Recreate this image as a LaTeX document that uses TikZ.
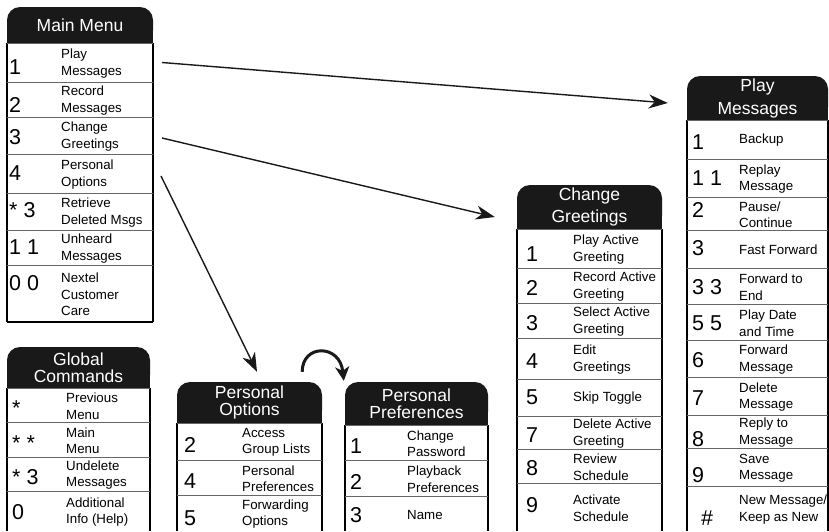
\documentclass[tikz,border=0pt]{standalone}
\usepackage{fontspec}
\setmainfont{Liberation Sans}
\usepackage{tikz}
\usetikzlibrary{arrows.meta}
\usepackage{xcolor}
\colorlet{hdrblack}{black!90}
\colorlet{rulegray}{black!60}

\begin{document}
\begin{tikzpicture}[x=1pt, y=-1pt, >={Stealth[length=19pt, width=14pt, inset=6pt]},
    hdr/.style={text=white, align=center, inner sep=0pt},
    num/.style={anchor=west, inner sep=0pt, font=\fontsize{21.5}{21.5}\selectfont},
    txt/.style={anchor=west, align=left, inner sep=0pt, font=\fontsize{13.3}{16.5}\selectfont},
    rowsep/.style={rulegray, line width=1pt},
    boxside/.style={black, line width=1.4pt},
    arr/.style={->, black!90, line width=1.4pt},
    curl/.style={-{Stealth[length=14pt, width=14pt, inset=4pt]}, black!90, line width=3pt}]

    \useasboundingbox (0,0) rectangle (829,531);

    % ===== HEADERS AND BOX SIDES =====
    \foreach \name/\xa/\xb/\ya/\yb/\yc/\ls/\title in {
        mm/7/153/7/43/322/18/{Main Menu},
        gc/7/150/347/388/531/17/{Global\\Commands},
        po/177/322/382/423/531/17/{Personal\\Options},
        pp/345/488/382/425/531/17/{Personal\\Preferences},
        cg/517/662/185/229/531/22/{Change\\Greetings},
        pm/687/828/76/120/531/23/{Play\\Messages}}{
        \fill[hdrblack, rounded corners=13pt] (\xa,\ya) rectangle (\xb,\yb);
        \fill[hdrblack] (\xa,{\ya+15}) rectangle (\xb,\yb);
        \draw[boxside] (\xa,\yb) -- (\xa,\yc) (\xb,\yb) -- (\xb,\yc);
        \node[hdr, font=\fontsize{17.5}{\ls}\selectfont,
              minimum width={(\xb-\xa)*1pt}, minimum height={(\yb-\ya)*1pt}]
              (\name) at ({(\xa+\xb)/2}, {(\ya+\yb)/2}) {\title};
    }

    % ===== MAIN MENU =====
    \foreach \ya/\yb/\nb/\dy/\lbl [count=\i] in {
        43/82/1/5/{Play\\Messages},
        82/117/2/5/{Record\\Messages},
        117/154/3/1.5/{Change\\Greetings},
        154/193/4/0/{Personal\\Options},
        193/230/{* 3}/-1/{Retrieve\\Deleted Msgs},
        230/265/{1 1}/0/{Unheard\\Messages},
        265/322/{0 0}/-10/{Nextel\\Customer\\Care}}{
        \draw[rowsep] (7,\ya) -- (153,\ya);
        \node[num] (mm-n\i) at (9, {(\ya+\yb)/2+(\dy)}) {\nb};
        \node[txt] (mm-t\i) at (61, {(\ya+\yb)/2+1}) {\lbl};
        \coordinate (mm-\i) at (153, {(\ya+\yb)/2});
    }
    \draw[boxside] (7,322) -- (153,322);

    % ===== GLOBAL COMMANDS =====
    \foreach \ya/\yb/\nb/\dy/\lbl [count=\i] in {
        388/422/*/3/{Previous\\Menu},
        422/457/{* *}/4/{Main\\Menu},
        457/491/{* 3}/3/{Undelete\\Messages},
        491/531/0/1/{Additional\\Info (Help)}}{
        \draw[rowsep] (7,\ya) -- (150,\ya);
        \node[num] (gc-n\i) at (12, {(\ya+\yb)/2+(\dy)}) {\nb};
        \node[txt] (gc-t\i) at (66, {(\ya+\yb)/2+1}) {\lbl};
    }

    % ===== PERSONAL OPTIONS =====
    \foreach \ya/\yb/\nb/\dy/\lbl [count=\i] in {
        423/460/2/3.5/{Access\\Group Lists},
        460/495/4/4/{Personal\\Preferences},
        495/531/5/5/{Forwarding\\Options}}{
        \draw[rowsep] (177,\ya) -- (322,\ya);
        \node[num] (po-n\i) at (184, {(\ya+\yb)/2+(\dy)}) {\nb};
        \node[txt] (po-t\i) at (242, {(\ya+\yb)/2+1}) {\lbl};
    }

    % ===== PERSONAL PREFERENCES =====
    \foreach \ya/\yb/\nb/\dy/\lbl [count=\i] in {
        425/460/1/3.5/{Change\\Password},
        460/496/2/4/{Playback\\Preferences},
        496/531/3/1.5/{Name}}{
        \draw[rowsep] (345,\ya) -- (488,\ya);
        \node[num] (pp-n\i) at (350, {(\ya+\yb)/2+(\dy)}) {\nb};
        \node[txt] (pp-t\i) at (407, {(\ya+\yb)/2+1}) {\lbl};
    }

    % ===== CHANGE GREETINGS =====
    \foreach \ya/\yb/\nb/\dy/\lbl [count=\i] in {
        229/268/1/6/{Play Active\\Greeting},
        268/303/2/2.5/{Record Active\\Greeting},
        303/338/3/2.5/{Select Active\\Greeting},
        338/379/4/3/{Edit\\Greetings},
        379/416/5/0/{Skip Toggle},
        416/449/7/2.5/{Delete Active\\Greeting},
        449/483/8/2/{Review\\Schedule},
        483/531/9/-2/{Activate\\Schedule}}{
        \draw[rowsep] (517,\ya) -- (662,\ya);
        \node[num] (cg-n\i) at (526, {(\ya+\yb)/2+(\dy)}) {\nb};
        \node[txt] (cg-t\i) at (573, {(\ya+\yb)/2+1}) {\lbl};
    }

    % ===== PLAY MESSAGES =====
    \foreach \ya/\yb/\nb/\dy/\lbl [count=\i] in {
        120/159/1/2.5/{Backup},
        159/197/{1 1}/0/{Replay\\Message},
        197/230/2/-4/{Pause/\\Continue},
        230/268/3/-1/{Fast Forward},
        268/304/{3 3}/1/{Forward to\\End},
        304/340/{5 5}/1/{Play Date\\and Time},
        340/377/6/1.5/{Forward\\Message},
        377/415/7/2/{Delete\\Message},
        415/448/8/8/{Reply to\\Message},
        448/486/9/8/{Save\\Message},
        486/531/{\hspace{9pt}\#}/10/{New Message/\\Keep as New}}{
        \draw[rowsep] (687,\ya) -- (828,\ya);
        \node[num] (pm-n\i) at (692, {(\ya+\yb)/2+(\dy)}) {\nb};
        \node[txt] (pm-t\i) at (739, {(\ya+\yb)/2+1}) {\lbl};
    }

    % ===== ARROWS =====
    \draw[arr] ([xshift=9pt]mm-1) -- ([xshift=-19pt, yshift=-5pt]pm.west);
    \draw[arr] ([xshift=9pt, yshift=-2.5pt]mm-3) -- ([xshift=-22pt, yshift=-10pt]cg.west);
    \draw[arr] ([xshift=8pt, yshift=-2.5pt]mm-4) -- ([xshift=7.5pt, yshift=10pt]po.north);
    \draw[curl] ([xshift=-20pt, yshift=10pt]po.north east)
        .. controls +(0,-28) and +(-4,-37) .. ([xshift=-1pt, yshift=1pt]pp.north west);

\end{tikzpicture}
\end{document}
